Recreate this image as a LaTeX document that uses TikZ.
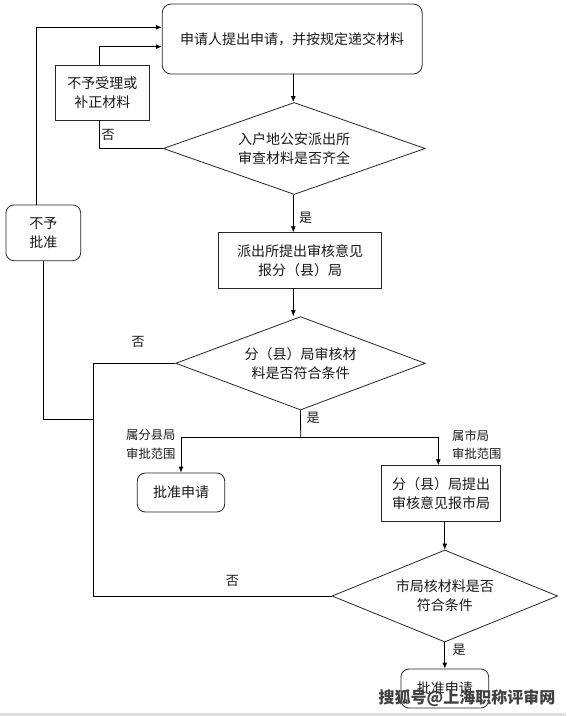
\documentclass[tikz,border=0pt]{standalone}
\usepackage{fontspec}
\setmainfont{Noto Sans CJK SC}
\usetikzlibrary{shapes.geometric,arrows.meta}
\begin{document}
\begin{tikzpicture}[x=1pt,y=-1pt,
  every node/.style={font=\fontsize{14}{19}\selectfont, text=black!90},
  box/.style={draw=black!85, line width=0.8pt, align=center, inner sep=0pt},
  rbox/.style={box, rounded corners=9pt},
  dia/.style={draw=black!85, line width=0.8pt, diamond, align=center, inner sep=0pt, shape aspect=2.7},
  line/.style={draw=black, line width=0.8pt},
  arr/.style={line, -{Latex[length=6pt,width=5pt]}},
  lbl/.style={inner sep=0pt, font=\fontsize{13}{18}\selectfont},
  rng/.style={inner sep=0pt, anchor=west, align=left, font=\fontsize{12.3}{18.7}\selectfont},
  wm/.style={font=\fontsize{16}{16}\selectfont\bfseries, text=black!75, inner sep=0pt}
]
\useasboundingbox (0,0) rectangle (566,716);
\fill[white] (0,0) rectangle (566,716);
\fill[black!12] (0,712.5) rectangle (566,716);

% nodes
\node[rbox, minimum width=260pt, minimum height=70pt] (top) at (292.2,39) {申请人提出申请，并按规定递交材料};
\node[box, minimum width=94pt, minimum height=54.7pt] (bu) at (102.3,92.7) {不予受理或\\补正材料};
\node[dia, minimum width=262pt, minimum height=92pt] (d1) at (294.2,148.5) {入户地公安派出所\\审查材料是否齐全};
\node[rbox, rounded corners=8pt, minimum width=74.7pt, minimum height=55.7pt] (bp) at (43.3,232.8) {不予\\批准};
\node[box, minimum width=162.6pt, minimum height=55.3pt] (b3) at (300,260.3) {派出所提出审核意见\\报分（县）局};
\node[dia, minimum width=249.6pt, minimum height=93.4pt] (d2) at (300.5,363.3) {分（县）局审核材\\料是否符合条件};
\node[rbox, rounded corners=8pt, minimum width=87.4pt, minimum height=39pt] (a1) at (181,492.5) {批准申请};
\node[box, minimum width=119.4pt, minimum height=55.3pt] (b5) at (441,493.3) {分（县）局提出\\审核意见报市局};
\node[dia, minimum width=225.7pt, minimum height=92pt] (d3) at (444.8,596) {市局核材料是否\\符合条件};
\node[rbox, rounded corners=8pt, minimum width=87.7pt, minimum height=39pt] (a2) at (444.8,688.5) {批准申请};

% helper coordinates
\coordinate (xa) at (99.3,46.7);
\coordinate (xb) at (36,27.3);
\coordinate (xm) at (293.3,0);
\coordinate (xl) at (93.3,363.3);
\coordinate (jn) at (93.3,419);
\coordinate (sp) at (300.7,437.3);
\coordinate (sl) at (181,437.3);
\coordinate (sr) at (438.3,437.3);
\coordinate (bpl) at (36,205);

% main flow
\draw[arr] (xm |- top.south) -- (xm |- d1.north);
\draw[arr] (xm |- d1.south) -- (xm |- b3.north);
\draw[arr] (xm |- b3.south) -- (xm |- d2.north);

% d1 no -> 不予受理 -> top
\draw[line] (d1.west) -| (xa |- bu.south);
\draw[arr] (xa |- bu.north) -- (xa) -- (top.west |- xa);

% 不予批准 -> top
\draw[arr] (bpl) -- (xb) -- (top.west |- xb);

% d2 split
\draw[line] (d2.south) -- (sp);
\draw[line] (sl) -- (sr);
\draw[arr] (sl) -- (a1.north);
\draw[arr] (sr) -- (sr |- b5.north);
\draw[arr] (d3.north |- b5.south) -- (d3.north);
\draw[arr] (d3.south) -- (a2.north);

% no branches to 不予批准
\draw[line] (d2.west) -- (xl) -- (xl |- d3.west) -- (d3.west);
\draw[line] (bp.south) |- (jn);

% labels
\node[lbl] (n1) at (108,135) {否};
\node[lbl] (y1) at (305.5,218) {是};
\node[lbl] (n2) at (138,342) {否};
\node[lbl] (y2) at (313,418) {是};
\node[rng] (l1) at (126,444.7) {属分县局\\审批范围};
\node[rng] (l2) at (452,444.7) {属市局\\审批范围};
\node[lbl] (n3) at (232.3,581) {否};
\node[lbl] (y3) at (459,650) {是};

% watermark
\node[wm] (wmk) at (467,698.5) {搜狐号@上海职称评审网};
\end{tikzpicture}
\end{document}
